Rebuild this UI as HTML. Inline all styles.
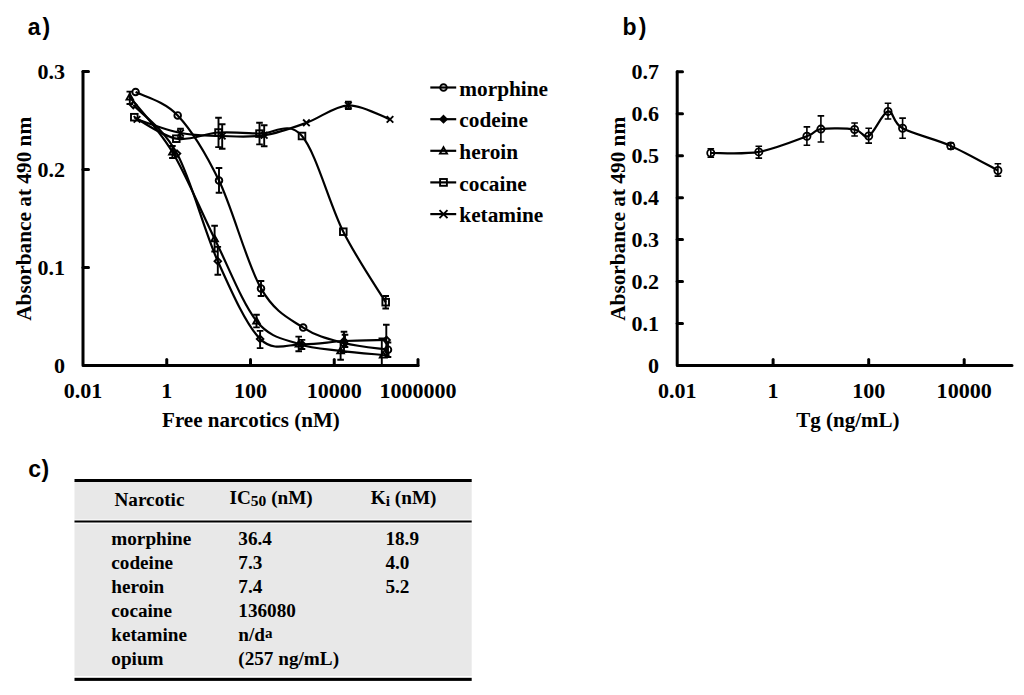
<!DOCTYPE html>
<html><head><meta charset="utf-8"><style>
html,body{margin:0;padding:0;background:#fff;width:1024px;height:695px;overflow:hidden}
svg{display:block}
.t{font-family:"Liberation Serif",serif;font-weight:bold;fill:#000}
.s{font-family:"Liberation Sans",sans-serif;font-weight:bold;fill:#000}
</style></head><body>
<svg width="1024" height="695" viewBox="0 0 1024 695">

<text class="s" x="27.8" y="35.4" font-size="23" letter-spacing="2">a)</text>
<text class="s" x="622.6" y="35.4" font-size="23" letter-spacing="2">b)</text>
<text class="s" x="28.2" y="477.2" font-size="23" letter-spacing="0.6">c)</text>
<g stroke="#000" stroke-width="3" fill="none" stroke-linecap="round" stroke-linejoin="round">
<path d="M83.0,71.5 V365.5 H418"/>
<path d="M83.0,71.5 H88.5"/>
<path d="M83.0,169.5 H88.5"/>
<path d="M83.0,267.5 H88.5"/>
<path d="M166.75,365.5 V359.5"/>
<path d="M250.50,365.5 V359.5"/>
<path d="M334.25,365.5 V359.5"/>
<path d="M418.00,365.5 V359.5"/>
</g>
<text class="t" x="65" y="78.7" font-size="21" text-anchor="end" textLength="27.56" lengthAdjust="spacingAndGlyphs">0.3</text>
<text class="t" x="65" y="176.7" font-size="21" text-anchor="end" textLength="27.56" lengthAdjust="spacingAndGlyphs">0.2</text>
<text class="t" x="65" y="274.7" font-size="21" text-anchor="end" textLength="27.56" lengthAdjust="spacingAndGlyphs">0.1</text>
<text class="t" x="65" y="372.7" font-size="21" text-anchor="end" textLength="11.03" lengthAdjust="spacingAndGlyphs">0</text>
<text class="t" x="83.00" y="398" font-size="21" text-anchor="middle" textLength="38.59" lengthAdjust="spacingAndGlyphs">0.01</text>
<text class="t" x="166.75" y="398" font-size="21" text-anchor="middle" textLength="11.03" lengthAdjust="spacingAndGlyphs">1</text>
<text class="t" x="250.50" y="398" font-size="21" text-anchor="middle" textLength="33.08" lengthAdjust="spacingAndGlyphs">100</text>
<text class="t" x="334.25" y="398" font-size="21" text-anchor="middle" textLength="55.12" lengthAdjust="spacingAndGlyphs">10000</text>
<text class="t" x="418.00" y="398" font-size="21" text-anchor="middle" textLength="77.17" lengthAdjust="spacingAndGlyphs">1000000</text>
<text class="t" x="250.9" y="427.2" font-size="21" text-anchor="middle">Free narcotics (nM)</text>
<text class="t" font-size="20.6" text-anchor="middle" textLength="204" lengthAdjust="spacingAndGlyphs" transform="translate(30.5,218.8) rotate(-90)">Absorbance at 490 nm</text>
<g stroke="#000" stroke-width="2.2" fill="none">
<path d="M135.6,92.0 C142.6,95.9 163.8,100.6 177.7,115.4 C191.6,130.2 205.1,151.8 219.0,180.6 C232.9,209.4 247.0,263.9 261.0,288.4 C275.0,312.9 289.4,318.5 303.2,327.6 C317.0,336.7 329.9,339.3 344.0,343.0 C358.1,346.7 380.7,348.6 388.0,349.7"/>
<path d="M133.3,105.0 C140.6,113.1 162.9,127.6 177.0,153.6 C191.1,179.6 204.0,230.3 217.8,261.2 C231.7,292.1 246.1,325.0 260.1,338.9 C274.1,352.8 288.0,343.9 302.0,344.3 C316.0,344.7 329.9,341.7 344.0,341.0 C358.1,340.3 379.5,340.2 386.6,340.0"/>
<path d="M129.8,97.0 C136.9,106.2 158.3,128.4 172.4,152.0 C186.5,175.6 200.6,210.5 214.6,238.7 C228.6,266.9 242.4,303.4 256.5,321.0 C270.6,338.6 284.9,339.0 298.9,344.0 C312.9,349.0 326.6,349.0 340.6,350.8 C354.6,352.6 376.0,354.3 383.1,355.0"/>
<path d="M134.3,117.2 C141.3,120.8 162.3,136.1 176.3,138.7 C190.3,141.2 204.6,133.3 218.5,132.5 C232.4,131.7 245.6,133.0 259.5,133.6 C273.4,134.2 288.0,119.7 302.0,136.0 C316.0,152.3 329.4,204.0 343.3,231.7 C357.2,259.4 378.6,290.4 385.7,302.2"/>
<path d="M137.0,119.4 C144.2,121.7 166.3,130.2 180.5,133.0 C194.7,135.8 208.2,135.6 222.2,136.0 C236.1,136.4 250.2,137.5 264.2,135.3 C278.2,133.1 292.4,127.8 306.4,122.8 C320.4,117.8 334.4,105.9 348.3,105.3 C362.2,104.7 383.1,117.1 390.0,119.4"/>
</g>
<g stroke="#000" stroke-width="1.9" fill="none">
<path d="M219.0,168.0 V192.7 M215.7,168.0 H222.3 M215.7,192.7 H222.3"/>
<path d="M261.0,281.0 V296.0 M257.7,281.0 H264.3 M257.7,296.0 H264.3"/>
<path d="M217.8,246.9 V274.8 M214.5,246.9 H221.1 M214.5,274.8 H221.1"/>
<path d="M260.1,330.9 V348.1 M256.8,330.9 H263.4 M256.8,348.1 H263.4"/>
<path d="M302.0,339.9 V349.0 M298.7,339.9 H305.3 M298.7,349.0 H305.3"/>
<path d="M345.0,334.8 V347.0 M341.7,334.8 H348.3 M341.7,347.0 H348.3"/>
<path d="M386.3,324.8 V355.2 M383.0,324.8 H389.6 M383.0,355.2 H389.6"/>
<path d="M388.0,342.5 V357.0 M384.7,342.5 H391.3 M384.7,357.0 H391.3"/>
<path d="M129.8,91.6 V104.0 M126.5,91.6 H133.1 M126.5,104.0 H133.1"/>
<path d="M172.4,146.0 V158.0 M169.1,146.0 H175.7 M169.1,158.0 H175.7"/>
<path d="M214.6,225.8 V251.5 M211.3,225.8 H217.9 M211.3,251.5 H217.9"/>
<path d="M256.5,314.7 V327.4 M253.2,314.7 H259.8 M253.2,327.4 H259.8"/>
<path d="M298.7,336.6 V351.3 M295.4,336.6 H302.0 M295.4,351.3 H302.0"/>
<path d="M340.6,341.8 V359.8 M337.3,341.8 H343.9 M337.3,359.8 H343.9"/>
<path d="M381.8,338.5 V365.0 M378.5,338.5 H385.1 M378.5,365.0 H385.1"/>
<path d="M218.5,117.8 V147.1 M215.2,117.8 H221.8 M215.2,147.1 H221.8"/>
<path d="M259.5,122.8 V144.4 M256.2,122.8 H262.8 M256.2,144.4 H262.8"/>
<path d="M385.7,296.0 V308.5 M382.4,296.0 H389.0 M382.4,308.5 H389.0"/>
<path d="M180.5,128.7 V137.5 M177.2,128.7 H183.8 M177.2,137.5 H183.8"/>
<path d="M222.2,124.2 V148.8 M218.9,124.2 H225.5 M218.9,148.8 H225.5"/>
<path d="M264.2,125.2 V146.3 M260.9,125.2 H267.5 M260.9,146.3 H267.5"/>
<path d="M348.3,101.7 V109.0 M345.0,101.7 H351.6 M345.0,109.0 H351.6"/>
<path d="M344.0,331.8 V352.0 M340.7,331.8 H347.3 M340.7,352.0 H347.3"/>
<circle cx="135.6" cy="92.0" r="3.3"/>
<circle cx="177.7" cy="115.4" r="3.3"/>
<circle cx="219.0" cy="180.6" r="3.3"/>
<circle cx="261.0" cy="288.4" r="3.3"/>
<circle cx="303.2" cy="327.6" r="3.3"/>
<circle cx="344.0" cy="343.0" r="3.3"/>
<circle cx="388.0" cy="349.7" r="3.3"/>
<path d="M133.3,101.7 L136.6,105.0 L133.3,108.3 L130.0,105.0 Z"/>
<path d="M177.0,150.3 L180.3,153.6 L177.0,156.9 L173.7,153.6 Z"/>
<path d="M217.8,257.9 L221.1,261.2 L217.8,264.5 L214.5,261.2 Z"/>
<path d="M260.1,335.6 L263.4,338.9 L260.1,342.2 L256.8,338.9 Z"/>
<path d="M302.0,341.0 L305.3,344.3 L302.0,347.6 L298.7,344.3 Z"/>
<path d="M344.0,337.7 L347.3,341.0 L344.0,344.3 L340.7,341.0 Z"/>
<path d="M386.6,336.7 L389.9,340.0 L386.6,343.3 L383.3,340.0 Z"/>
<path d="M129.8,93.7 L133.1,99.6 L126.5,99.6 Z"/>
<path d="M172.4,148.7 L175.7,154.6 L169.1,154.6 Z"/>
<path d="M214.6,235.4 L217.9,241.3 L211.3,241.3 Z"/>
<path d="M256.5,317.7 L259.8,323.6 L253.2,323.6 Z"/>
<path d="M298.9,340.7 L302.2,346.6 L295.6,346.6 Z"/>
<path d="M340.6,347.5 L343.9,353.4 L337.3,353.4 Z"/>
<path d="M383.1,351.7 L386.4,357.6 L379.8,357.6 Z"/>
<rect x="131.0" y="113.9" width="6.6" height="6.6"/>
<rect x="173.0" y="135.4" width="6.6" height="6.6"/>
<rect x="215.2" y="129.2" width="6.6" height="6.6"/>
<rect x="256.2" y="130.3" width="6.6" height="6.6"/>
<rect x="298.7" y="132.7" width="6.6" height="6.6"/>
<rect x="340.0" y="228.4" width="6.6" height="6.6"/>
<rect x="382.4" y="298.9" width="6.6" height="6.6"/>
<path d="M133.7,116.1 L140.3,122.7 M133.7,122.7 L140.3,116.1"/>
<path d="M177.2,129.7 L183.8,136.3 M177.2,136.3 L183.8,129.7"/>
<path d="M218.9,132.7 L225.5,139.3 M218.9,139.3 L225.5,132.7"/>
<path d="M260.9,132.0 L267.5,138.6 M260.9,138.6 L267.5,132.0"/>
<path d="M303.1,119.5 L309.7,126.1 M303.1,126.1 L309.7,119.5"/>
<path d="M345.0,102.0 L351.6,108.6 M345.0,108.6 L351.6,102.0"/>
<path d="M386.7,116.1 L393.3,122.7 M386.7,122.7 L393.3,116.1"/>
</g>
<path d="M430.3,87.5 H456.2" stroke="#000" stroke-width="2.2"/>
<g stroke="#000" stroke-width="1.9" fill="none"><circle cx="443.5" cy="87.5" r="3.3"/></g>
<text class="t" x="459.3" y="95.7" font-size="21.3">morphine</text>
<path d="M430.3,119.2 H456.2" stroke="#000" stroke-width="2.2"/>
<g stroke="#000" stroke-width="1.9" fill="#000"><path d="M443.5,115.9 L446.8,119.2 L443.5,122.5 L440.2,119.2 Z"/></g>
<text class="t" x="459.3" y="127.4" font-size="21.3">codeine</text>
<path d="M430.3,150.8 H456.2" stroke="#000" stroke-width="2.2"/>
<g stroke="#000" stroke-width="1.9" fill="none"><path d="M443.5,147.3 L447.0,153.6 L440.0,153.6 Z"/></g>
<text class="t" x="459.3" y="159.0" font-size="21.3">heroin</text>
<path d="M430.3,182.4 H456.2" stroke="#000" stroke-width="2.2"/>
<g stroke="#000" stroke-width="1.9" fill="none"><rect x="440.1" y="179.0" width="6.8" height="6.8"/></g>
<text class="t" x="459.3" y="190.6" font-size="21.3">cocaine</text>
<path d="M430.3,214.1 H456.2" stroke="#000" stroke-width="2.2"/>
<g stroke="#000" stroke-width="1.9" fill="none"><path d="M439.5,210.1 L447.5,218.1 M439.5,218.1 L447.5,210.1"/></g>
<text class="t" x="459.3" y="222.3" font-size="21.3">ketamine</text>
<g stroke="#000" stroke-width="3" fill="none" stroke-linecap="round" stroke-linejoin="round">
<path d="M677.2,71.8 V365.5 H1012"/>
<path d="M677.2,323.5 H682.5"/>
<path d="M677.2,281.6 H682.5"/>
<path d="M677.2,239.6 H682.5"/>
<path d="M677.2,197.7 H682.5"/>
<path d="M677.2,155.7 H682.5"/>
<path d="M677.2,113.7 H682.5"/>
<path d="M677.2,71.8 H682.5"/>
<path d="M773.1,365.5 V359.5"/>
<path d="M868.7,365.5 V359.5"/>
<path d="M964.2,365.5 V359.5"/>
</g>
<text class="t" x="659" y="372.7" font-size="21" text-anchor="end" textLength="11.03" lengthAdjust="spacingAndGlyphs">0</text>
<text class="t" x="659" y="330.7" font-size="21" text-anchor="end" textLength="27.56" lengthAdjust="spacingAndGlyphs">0.1</text>
<text class="t" x="659" y="288.8" font-size="21" text-anchor="end" textLength="27.56" lengthAdjust="spacingAndGlyphs">0.2</text>
<text class="t" x="659" y="246.8" font-size="21" text-anchor="end" textLength="27.56" lengthAdjust="spacingAndGlyphs">0.3</text>
<text class="t" x="659" y="204.9" font-size="21" text-anchor="end" textLength="27.56" lengthAdjust="spacingAndGlyphs">0.4</text>
<text class="t" x="659" y="162.9" font-size="21" text-anchor="end" textLength="27.56" lengthAdjust="spacingAndGlyphs">0.5</text>
<text class="t" x="659" y="120.9" font-size="21" text-anchor="end" textLength="27.56" lengthAdjust="spacingAndGlyphs">0.6</text>
<text class="t" x="659" y="79.0" font-size="21" text-anchor="end" textLength="27.56" lengthAdjust="spacingAndGlyphs">0.7</text>
<text class="t" x="677.2" y="398" font-size="21" text-anchor="middle" textLength="38.59" lengthAdjust="spacingAndGlyphs">0.01</text>
<text class="t" x="773.1" y="398" font-size="21" text-anchor="middle" textLength="11.03" lengthAdjust="spacingAndGlyphs">1</text>
<text class="t" x="868.7" y="398" font-size="21" text-anchor="middle" textLength="33.08" lengthAdjust="spacingAndGlyphs">100</text>
<text class="t" x="964.2" y="398" font-size="21" text-anchor="middle" textLength="55.12" lengthAdjust="spacingAndGlyphs">10000</text>
<text class="t" x="847.9" y="427.4" font-size="21" text-anchor="middle">Tg (ng/mL)</text>
<text class="t" font-size="20.6" text-anchor="middle" textLength="204" lengthAdjust="spacingAndGlyphs" transform="translate(624.6,218.8) rotate(-90)">Absorbance at 490 nm</text>
<path d="M710.8,153.0 C718.8,152.8 742.8,154.7 758.8,151.9 C774.8,149.1 796.5,140.1 806.9,136.3 C817.2,132.5 812.9,130.2 820.9,129.1 C828.9,128.0 846.6,128.3 854.6,129.5 C862.6,130.7 863.1,139.0 868.7,136.0 C874.3,133.0 882.4,112.7 888.0,111.4 C893.6,110.1 892.1,122.6 902.6,128.3 C913.1,134.1 934.9,138.9 950.8,145.9 C966.7,152.9 990.0,166.4 997.9,170.5" stroke="#000" stroke-width="2.2" fill="none"/>
<g stroke="#000" stroke-width="1.6" fill="none">
<path d="M710.8,148.8 V157.3 M707.5,148.8 H714.1 M707.5,157.3 H714.1"/>
<path d="M758.8,146.3 V158.1 M755.5,146.3 H762.1 M755.5,158.1 H762.1"/>
<path d="M806.9,126.9 V145.2 M803.6,126.9 H810.2 M803.6,145.2 H810.2"/>
<path d="M820.9,115.9 V142.0 M817.6,115.9 H824.2 M817.6,142.0 H824.2"/>
<path d="M854.6,123.0 V136.0 M851.3,123.0 H857.9 M851.3,136.0 H857.9"/>
<path d="M868.7,128.3 V143.1 M865.4,128.3 H872.0 M865.4,143.1 H872.0"/>
<path d="M888.0,103.2 V119.0 M884.7,103.2 H891.3 M884.7,119.0 H891.3"/>
<path d="M902.6,118.1 V138.3 M899.3,118.1 H905.9 M899.3,138.3 H905.9"/>
<path d="M950.8,143.0 V149.0 M947.5,143.0 H954.1 M947.5,149.0 H954.1"/>
<path d="M997.9,163.8 V176.1 M994.6,163.8 H1001.2 M994.6,176.1 H1001.2"/>
</g>
<g stroke="#000" stroke-width="1.8" fill="none">
<circle cx="710.8" cy="153.0" r="3.6"/>
<circle cx="758.8" cy="151.9" r="3.6"/>
<circle cx="806.9" cy="136.3" r="3.6"/>
<circle cx="820.9" cy="129.1" r="3.6"/>
<circle cx="854.6" cy="129.5" r="3.6"/>
<circle cx="868.7" cy="136.0" r="3.6"/>
<circle cx="888.0" cy="111.4" r="3.6"/>
<circle cx="902.6" cy="128.3" r="3.6"/>
<circle cx="950.8" cy="145.9" r="3.6"/>
<circle cx="997.9" cy="170.5" r="3.6"/>
</g>
<rect x="74.5" y="481" width="397.2" height="195" fill="#e8e8e8"/>
<rect x="74.5" y="479" width="397.2" height="3" fill="#000"/>
<rect x="74.5" y="519.3" width="397.2" height="4.6" fill="#fbfbfb"/>
<rect x="74.5" y="520.5" width="397.2" height="2" fill="#000"/>
<rect x="74.5" y="677.8" width="397.2" height="3.1" fill="#000"/>
<text class="t" x="114.5" y="505.8" font-size="19.2">Narcotic</text>
<text class="t" x="229.5" y="504.2" font-size="19.2">IC<tspan font-size="15.5" dy="1.4">50</tspan><tspan dy="-1.4"> (nM)</tspan></text>
<text class="t" x="370.8" y="504.2" font-size="19.2">K<tspan font-size="15.5" dy="1.4">i</tspan><tspan dy="-1.4"> (nM)</tspan></text>
<text class="t" x="111.3" y="545.0" font-size="19.2">morphine</text>
<text class="t" x="238.3" y="545.0" font-size="19.2">36.4</text>
<text class="t" x="385.4" y="545.0" font-size="19.2">18.9</text>
<text class="t" x="111.3" y="569.0" font-size="19.2">codeine</text>
<text class="t" x="238.3" y="569.0" font-size="19.2">7.3</text>
<text class="t" x="385.4" y="569.0" font-size="19.2">4.0</text>
<text class="t" x="111.3" y="593.0" font-size="19.2">heroin</text>
<text class="t" x="238.3" y="593.0" font-size="19.2">7.4</text>
<text class="t" x="385.4" y="593.0" font-size="19.2">5.2</text>
<text class="t" x="111.3" y="617.0" font-size="19.2">cocaine</text>
<text class="t" x="238.3" y="617.0" font-size="19.2">136080</text>
<text class="t" x="111.3" y="641.0" font-size="19.2">ketamine</text>
<text class="t" x="238.3" y="641.0" font-size="19.2">n/d<tspan font-size="15" dy="-3.5">a</tspan></text>
<text class="t" x="111.3" y="665.0" font-size="19.2">opium</text>
<text class="t" x="238.3" y="665.0" font-size="19.2">(257 ng/mL)</text>
</svg>
</body></html>
